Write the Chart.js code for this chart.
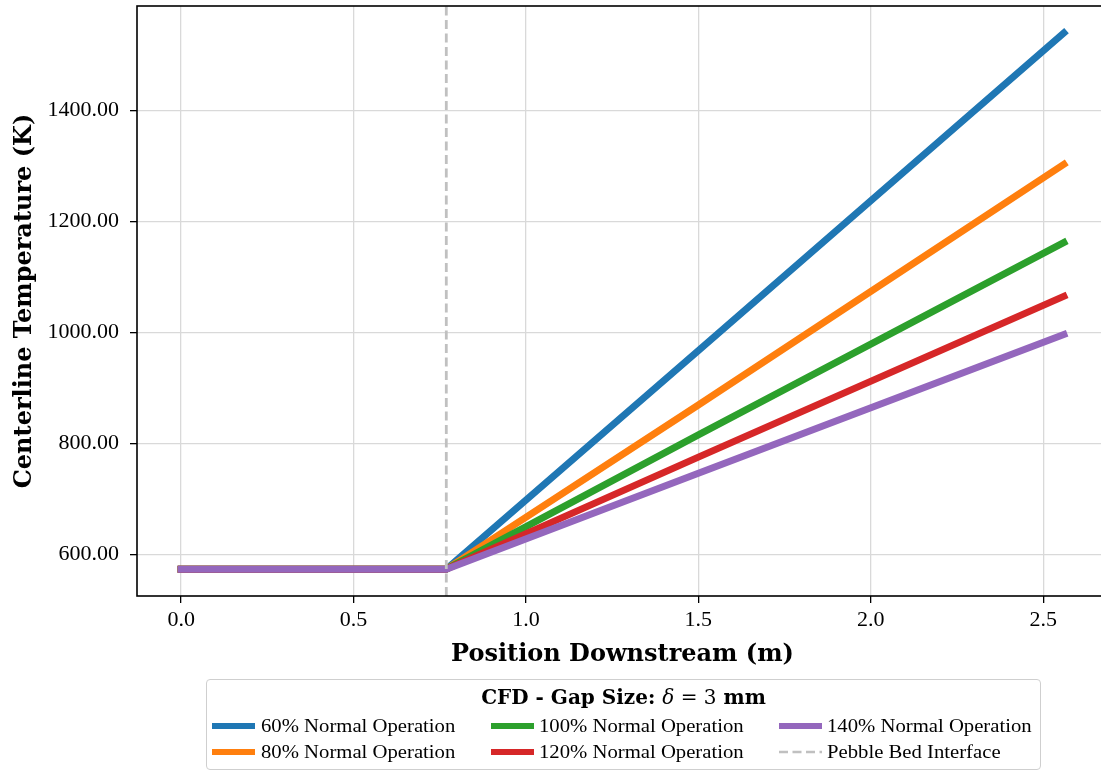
<!DOCTYPE html>
<html>
<head>
<meta charset="utf-8">
<script src="https://cdn.jsdelivr.net/npm/chart.js@4.4.1/dist/chart.umd.min.js"></script>
<style>
  html, body { margin:0; padding:0; background:#fff; overflow:hidden; width:1101px; height:772px; }
  #wrap { position:absolute; left:0; top:0; width:1108px; height:772px; }
  #legend { position:absolute; left:206px; top:679px; width:835px; height:91px; box-sizing:border-box;
            border:1.5px solid #cfcfcf; border-radius:4px; background:#fff; }
  #legend .ltitle { position:absolute; left:0; right:0; top:17px; transform:translateY(-50%);
            text-align:center; font-family:'DejaVu Serif', serif; font-size:20px; white-space:nowrap; }
  #legend .ltitle b { font-weight:bold; }
  #legend .ltitle .math { font-weight:normal; }
  #legend .handle { position:absolute; width:43px; height:8px; }
  #legend .txt { position:absolute; font-family:'Liberation Serif', serif; font-size:18px; white-space:nowrap;
            transform-origin:left center; line-height:20px; }
</style>
</head>
<body>
<div id="wrap"><canvas id="c"></canvas></div>
<div id="legend"><div class="ltitle"><b>CFD - Gap Size: </b><span class="math"><i>δ</i> = 3</span><b> mm</b></div></div>
<script>
// ---- data ----
const xPos = [0, 0.769, 1.5, 2.56];                 // position downstream (m)
const t60  = [573, 573, 967, 1540];
const t80  = [573, 573, 869, 1303];
const t100 = [573, 573, 815, 1162];
const t120 = [573, 573, 775, 1065];
const t140 = [573, 573, 746, 996];
const seriesLabels = ['60% Normal Operation', '80% Normal Operation', '100% Normal Operation',
                      '120% Normal Operation', '140% Normal Operation'];
const seriesValues = [t60, t80, t100, t120, t140];
const seriesColors = ['#1f77b4', '#ff7f0e', '#2ca02c', '#d62728', '#9467bd'];
const interfaceX = 0.769;
const interfaceLabel = 'Pebble Bed Interface';
const xTicks = [0, 0.5, 1.0, 1.5, 2.0, 2.5];
const yTicks = [600, 800, 1000, 1200, 1400];
const xMin = -0.128, xMax = 2.688, yMin = 524.6, yMax = 1588.4;

const datasets = seriesValues.map((vals, i) => ({
  label: seriesLabels[i],
  data: xPos.map((x, j) => ({x: x, y: vals[j]})),
  borderColor: seriesColors[i],
  backgroundColor: seriesColors[i],
  borderWidth: 7,
  pointRadius: 0,
  tension: 0,
  borderCapStyle: 'square',
  borderJoinStyle: 'round',
  fill: false,
  order: 10 - i
}));
datasets.push({
  label: interfaceLabel,
  data: [{x: interfaceX, y: yMin}, {x: interfaceX, y: yMax}],
  borderColor: '#c0c0c0',
  borderWidth: 2.8,
  borderDash: [9, 4.5],
  pointRadius: 0,
  fill: false,
  order: 0
});

const frame = {
  id: 'frame',
  afterDraw(chart) {
    const {ctx, chartArea: a} = chart;
    ctx.save();
    ctx.strokeStyle = '#000';
    ctx.lineWidth = 1.6;
    ctx.strokeRect(a.left, a.top, a.right - a.left, a.bottom - a.top);
    ctx.restore();
  }
};

const gridCommon = { color: '#d9d9d9', lineWidth: 1.3, tickColor: '#000', tickWidth: 1.3, tickLength: 7 };

new Chart(document.getElementById('c'), {
  type: 'line',
  data: { datasets },
  options: {
    responsive: true,
    maintainAspectRatio: false,
    animation: false,
    devicePixelRatio: 1,
    layout: { padding: { left: 0, top: 6, right: 0, bottom: 96 } },
    plugins: { legend: { display: false }, tooltip: { enabled: false } },
    scales: {
      x: {
        type: 'linear', min: xMin, max: xMax,
        grid: gridCommon,
        border: { display: false },
        afterBuildTicks: s => { s.ticks = xTicks.map(v => ({value: v})); },
        afterFit: s => { s.height = 80; s.paddingLeft = 0; s.paddingRight = 0; },
        ticks: { color: '#000', padding: 4, maxRotation: 0, autoSkip: false,
                 font: { family: "'Liberation Serif', serif", size: 22 },
                 callback: v => Number(v).toFixed(1) },
        title: { display: true, text: 'Position Downstream (m)', color: '#000',
                 font: { family: "'DejaVu Serif', serif", size: 24, weight: 'bold' },
                 padding: { top: 0, bottom: 7 } }
      },
      y: {
        type: 'linear', min: yMin, max: yMax,
        grid: gridCommon,
        border: { display: false },
        afterBuildTicks: s => { s.ticks = yTicks.map(v => ({value: v})); },
        afterFit: s => { s.width = 137; s.paddingTop = 0; s.paddingBottom = 0; },
        ticks: { color: '#000', padding: 11, autoSkip: false,
                 font: { family: "'Liberation Serif', serif", size: 22 },
                 callback: v => Number(v).toFixed(2) },
        title: { display: true, text: 'Centerline Temperature (K)', color: '#000',
                 font: { family: "'DejaVu Serif', serif", size: 24, weight: 'bold' },
                 padding: { top: 10, bottom: 0 } }
      }
    }
  },
  plugins: [frame]
});

// ---- legend (matplotlib-style, 3 columns, column-major) ----
const legend = document.getElementById('legend');
const legendItems = seriesLabels.map((l, i) => ({label: l, color: seriesColors[i], dashed: false}))
  .concat([{label: interfaceLabel, color: '#c0c0c0', dashed: true}]);
const colHandleX = [5, 284, 572];
const colTextX = [54, 332, 620];
const rowY = [46, 72];
legendItems.forEach((it, k) => {
  const col = Math.floor(k / 2), row = k % 2;
  const h = document.createElementNS('http://www.w3.org/2000/svg', 'svg');
  h.setAttribute('class', 'handle');
  h.setAttribute('width', '43'); h.setAttribute('height', '8');
  h.style.left = colHandleX[col] + 'px';
  h.style.top = (rowY[row] - 4) + 'px';
  const ln = document.createElementNS('http://www.w3.org/2000/svg', 'line');
  ln.setAttribute('x1', '0'); ln.setAttribute('x2', '43');
  ln.setAttribute('y1', '4'); ln.setAttribute('y2', '4');
  ln.setAttribute('stroke', it.color);
  ln.setAttribute('stroke-width', it.dashed ? '2.6' : '6');
  if (it.dashed) ln.setAttribute('stroke-dasharray', '9 4.5');
  h.appendChild(ln);
  legend.appendChild(h);
  const t = document.createElement('div');
  t.className = 'txt';
  t.textContent = it.label;
  t.style.left = colTextX[col] + 'px';
  t.style.top = (rowY[row] - 10) + 'px';
  t.style.transform = 'scaleX(1.15)';
  legend.appendChild(t);
});
</script>
</body>
</html>
